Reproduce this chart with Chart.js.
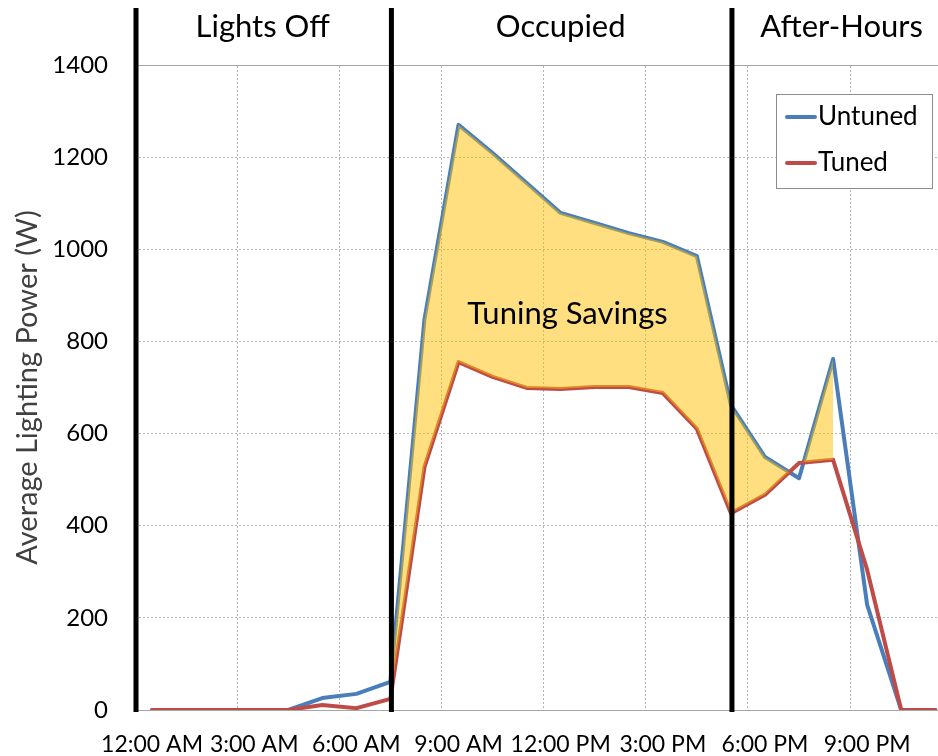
<!DOCTYPE html>
<html>
<head>
<meta charset="utf-8">
<script src="https://cdn.jsdelivr.net/npm/chart.js@4.4.0/dist/chart.umd.min.js"></script>
<style>
  body { margin: 0; background: #fff; }
  #wrap { width: 938px; height: 756px; }
</style>
</head>
<body>
<div id="wrap"><canvas id="chart" width="938" height="756"></canvas></div>
<script>
// hourly averages, hour 0 = 12:00 AM
const hours = [0,1,2,3,4,5,6,7,8,9,10,11,12,13,14,15,16,17,18,19,20,21,22,23]
const untunedWatts = [0,0,0,0,0,26,35,61,848,1270,1209,1144,1079,1057,1035,1016,985,662,549,503,762,228,0,0]
const tunedWatts = [0,0,0,0,0,11,4,24,527,755,723,699,697,701,701,688,610,427,467,536,543,304,0,0]

const tickHours = [0,3,6,9,12,15,18,21]
const tickLabels = ['12:00 AM','3:00 AM','6:00 AM','9:00 AM','12:00 PM','3:00 PM','6:00 PM','9:00 PM']
const gridHours = [2.5,5.5,8.5,11.5,14.5,17.5,20.5]

const periodNames = ['Lights Off','Occupied','After-Hours']
const periodEdges = [-0.5,7,17,23.5]

const savingsLabel = 'Tuning Savings'
const savingsFrom = 7
const savingsTo = 20

const FONT = 'Lato'

const toPoints = (vals)=> vals.map((v,i)=>({x: hours[i], y: v}))

const savingsPoints = hours.map((h,i)=>({x: h, y: (h >= savingsFrom && h <= savingsTo) ? untunedWatts[i] : null}))

const decorPlugin = {
  id: 'decor',
  afterDatasetsDraw(chart){
    const {ctx, chartArea, scales} = chart
    const x = scales.x
    const y = scales.y
    ctx.save()

    // period dividers
    ctx.strokeStyle = '#000'
    ctx.lineWidth = 5
    periodEdges.forEach(h=>{
      if(h > x.max) return
      const px = x.getPixelForValue(h) + 1
      ctx.beginPath()
      ctx.moveTo(px, 8)
      ctx.lineTo(px, chartArea.bottom + 2)
      ctx.stroke()
    })

    // period names
    ctx.fillStyle = '#000'
    ctx.font = `31px ${FONT}`
    ctx.textAlign = 'center'
    ctx.textBaseline = 'alphabetic'
    periodNames.forEach((name,i)=>{
      const px = x.getPixelForValue((periodEdges[i] + periodEdges[i+1]) / 2)
      ctx.fillText(name, px, 37)
    })

    // savings label
    ctx.font = `31px ${FONT}`
    ctx.textBaseline = 'middle'
    ctx.fillText(savingsLabel, x.getPixelForValue(12.2), y.getPixelForValue(860))

    // legend box
    ctx.fillStyle = '#fff'
    ctx.fillRect(776, 94, 156, 94)
    ctx.strokeStyle = '#8c8c8c'
    ctx.lineWidth = 1
    ctx.strokeRect(776.5, 94.5, 156, 94)
    ctx.font = `26px ${FONT}`
    ctx.textAlign = 'left'
    chart.data.datasets.filter(ds=>ds.label).forEach((ds,i)=>{
      const ly = 117 + i * 46
      ctx.strokeStyle = ds.borderColor
      ctx.lineWidth = 4
      ctx.lineCap = 'round'
      ctx.beginPath()
      ctx.moveTo(787, ly)
      ctx.lineTo(815, ly)
      ctx.stroke()
      ctx.fillStyle = '#000'
      ctx.fillText(ds.label, 818, ly)
    })

    ctx.restore()
  }
}

new Chart('chart', {
  type: 'line',
  data: {
    datasets: [
      {
        label: 'Untuned',
        data: toPoints(untunedWatts),
        borderColor: '#4A7EBB',
        borderWidth: 4,
        pointRadius: 0,
        fill: false,
        order: 2
      },
      {
        label: 'Tuned',
        data: toPoints(tunedWatts),
        borderColor: '#BE4B48',
        borderWidth: 4,
        pointRadius: 0,
        fill: false,
        order: 1
      },
      {
        data: savingsPoints,
        borderColor: 'rgba(0,0,0,0)',
        borderWidth: 0,
        pointRadius: 0,
        fill: {target: 1, above: 'rgba(255,192,0,0.5)', below: 'rgba(0,0,0,0)'},
        order: 0
      }
    ]
  },
  options: {
    responsive: false,
    animation: false,
    events: [],
    elements: {line: {tension: 0, borderJoinStyle: 'round', borderCapStyle: 'round'}},
    layout: {padding: {top: 65, left: 0, right: 0, bottom: 0}},
    plugins: {
      legend: {display: false},
      tooltip: {enabled: false}
    },
    scales: {
      x: {
        type: 'linear',
        position: 'bottom',
        min: -0.5,
        max: 23.08,
        bounds: 'data',
        afterBuildTicks: (scale)=>{ scale.ticks = tickHours.map(v=>({value: v})) },
        afterFit: (scale)=>{ scale.height = 46 },
        grid: {display: false, drawTicks: false},
        border: {display: true, color: '#a6a6a6', width: 1},
        ticks: {
          autoSkip: false,
          maxRotation: 0,
          padding: 21,
          color: '#000',
          font: {family: FONT, size: 23},
          callback: (v)=> tickLabels[tickHours.indexOf(v)]
        }
      },
      x2: {
        type: 'linear',
        position: 'top',
        min: -0.5,
        max: 23.08,
        bounds: 'data',
        afterBuildTicks: (scale)=>{ scale.ticks = gridHours.map(v=>({value: v})) },
        afterFit: (scale)=>{ scale.height = 0 },
        grid: {color: '#b4b4b4', lineWidth: 1, drawTicks: false},
        border: {display: true, color: '#a6a6a6', width: 1, dash: [2,2]},
        ticks: {display: false}
      },
      y: {
        min: 0,
        max: 1400,
        afterFit: (scale)=>{ scale.width = 135 },
        grid: {color: '#b4b4b4', lineWidth: 1, drawTicks: false},
        border: {display: false, dash: [2,2]},
        ticks: {
          stepSize: 200,
          padding: 27,
          color: '#000',
          font: {family: FONT, size: 24},
          callback: (v)=> String(v)
        },
        title: {
          display: true,
          text: 'Average Lighting Power (W)',
          color: '#404040',
          font: {family: FONT, size: 29},
          padding: {top: 10}
        }
      }
    }
  },
  plugins: [decorPlugin]
})
</script>
</body>
</html>
